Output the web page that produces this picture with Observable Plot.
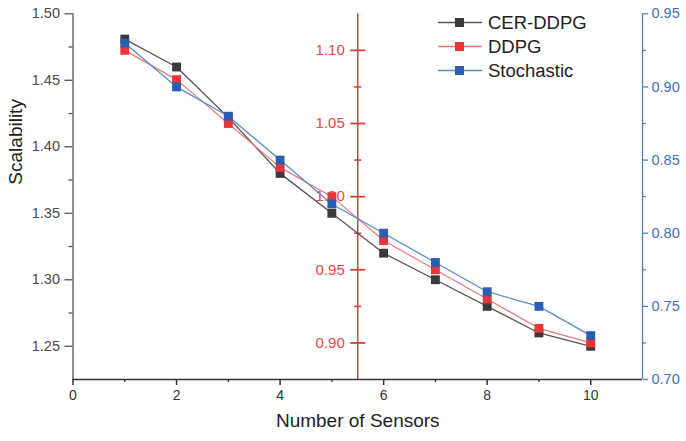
<!DOCTYPE html>
<html><head><meta charset="utf-8">
<script src="https://cdn.jsdelivr.net/npm/d3@7"></script>
<script src="https://cdn.jsdelivr.net/npm/@observablehq/plot@0.6"></script>
<style>
body{margin:0;background:#fff}
#wrap{position:relative;width:686px;height:441px}
#legend{position:absolute;left:0;top:0}
</style>
</head><body><div id="wrap"></div>
<script>
const sensors = [1, 2, 3, 4, 5, 6, 7, 8, 9, 10];
const cerDdpg = [1.481, 1.460, 1.422, 1.380, 1.350, 1.320, 1.300, 1.280, 1.260, 1.250];
const ddpg = [1.100, 1.080, 1.050, 1.020, 1.000, 0.970, 0.950, 0.930, 0.910, 0.900];
const stochastic = [0.930, 0.900, 0.880, 0.850, 0.820, 0.800, 0.780, 0.760, 0.750, 0.730];
const seriesNames = ["CER-DDPG", "DDPG", "Stochastic"];
const xTicks = [0, 2, 4, 6, 8, 10];
const xMinor = [1, 3, 5, 7, 9];
const leftTicks = [1.25, 1.30, 1.35, 1.40, 1.45, 1.50];
const leftMinor = [1.275, 1.325, 1.375, 1.425, 1.475];
const midTicks = [0.90, 0.95, 1.00, 1.05, 1.10];
const midMinor = [0.925, 0.975, 1.025, 1.075];
const rightTicks = [0.70, 0.75, 0.80, 0.85, 0.90, 0.95];
const rightMinor = [0.725, 0.775, 0.825, 0.875, 0.925];
const xTitle = "Number of Sensors";
const yTitle = "Scalability";

const leftDom = [1.225, 1.50];
const midDom = [0.875, 1.125];
const rightDom = [0.70, 0.95];
const midX = 5.5;
const toLeft = dom => v => leftDom[0] + (v - dom[0]) / (dom[1] - dom[0]) * (leftDom[1] - leftDom[0]);
const mapMid = toLeft(midDom);
const mapRight = toLeft(rightDom);

const colors = {black: "#3a3a3a", blackLine: "#555555", red: "#e8353b", redLine: "#e97a7a", blue: "#2c5fb2", blueLine: "#5a8cc6"};
const redText = "#e8474c", blueText = "#3b74b8", blueAxis = "#4f83c0", redAxis = "#e0393e";
const font = "'Liberation Sans', Arial, Helvetica, sans-serif";

// horizontal dash symbol for the floating axis ticks
const hDash = {draw(ctx, size) { const r = Math.sqrt(size / Math.PI); ctx.moveTo(-r, 0); ctx.lineTo(r, 0); }};

const rows = sensors.map((s, i) => ({s, cer: cerDdpg[i], ddpg: ddpg[i], sto: stochastic[i]}));
const fmt2 = d3.format(".2f");

const chart = Plot.plot({
  width: 686, height: 441,
  marginLeft: 72.5, marginRight: 44, marginTop: 13.3, marginBottom: 62,
  x: {domain: [0, 11]},
  y: {domain: leftDom},
  style: {fontFamily: font, background: "white", overflow: "visible"},
  marks: [
    // bottom axis
    Plot.axisX(xTicks, {tickSize: 6, tickPadding: 5, fontSize: 14, stroke: "#333", fill: "#333", strokeWidth: 1.5, label: null}),
    Plot.axisX(xMinor, {tickSize: 3, stroke: "#333", strokeWidth: 1.3, label: null, text: null}),
    // left axis
    Plot.axisY(leftTicks, {anchor: "left", tickSize: 8, tickPadding: 5, fontSize: 14.5, tickFormat: fmt2, stroke: "#555", strokeWidth: 1.3, fill: "#4a4a4a", label: null}),
    Plot.axisY(leftMinor, {anchor: "left", tickSize: 4, text: null, stroke: "#555", strokeWidth: 1.3, label: null}),
    // right axis (Stochastic)
    Plot.axisY(rightTicks.map(mapRight), {anchor: "right", tickSize: 5, tickPadding: 4, fontSize: 14.5, tickFormat: (d, i) => fmt2(rightTicks[i]), stroke: blueAxis, strokeWidth: 1.3, fill: blueText, label: null}),
    Plot.axisY(rightMinor.map(mapRight), {anchor: "right", tickSize: 3, text: null, stroke: blueAxis, strokeWidth: 1.3, label: null}),
    // axis lines
    Plot.ruleX([0], {stroke: "#555", strokeWidth: 1.3}),
    Plot.ruleX([11], {stroke: blueAxis, strokeWidth: 1.3}),
    Plot.ruleY([leftDom[0]], {stroke: "#333", strokeWidth: 1.7}),
    // middle red axis (DDPG)
    Plot.ruleX([midX], {stroke: redAxis, strokeWidth: 1.5}),
    Plot.dot(midTicks, {x: midX, y: mapMid, symbol: hDash, r: 7.5, stroke: redAxis, fill: "none", strokeWidth: 1.8}),
    Plot.dot(midMinor, {x: midX, y: mapMid, symbol: hDash, r: 3.5, stroke: redAxis, fill: "none", strokeWidth: 1.6}),
    Plot.text(midTicks, {x: midX, y: mapMid, text: d => fmt2(d), dx: -13, textAnchor: "end", fill: redText, fontSize: 15}),
    // series
    Plot.line(rows, {x: "s", y: "cer", stroke: colors.blackLine, strokeWidth: 1.3}),
    Plot.dot(rows, {x: "s", y: "cer", symbol: "square", r: 5, fill: colors.black}),
    Plot.line(rows, {x: "s", y: d => mapMid(d.ddpg), stroke: colors.redLine, strokeWidth: 1.2}),
    Plot.dot(rows, {x: "s", y: d => mapMid(d.ddpg), symbol: "square", r: 5, fill: colors.red}),
    Plot.line(rows, {x: "s", y: d => mapRight(d.sto), stroke: colors.blueLine, strokeWidth: 1.3}),
    Plot.dot(rows, {x: "s", y: d => mapRight(d.sto), symbol: "square", r: 5, fill: colors.blue}),
    // titles
    Plot.text([xTitle], {frameAnchor: "bottom", dy: 41, fontSize: 19, fill: "#222", lineAnchor: "middle"}),
    Plot.text([yTitle], {frameAnchor: "left", dx: -57.5, dy: -12, rotate: -90, fontSize: 19, fill: "#222", lineAnchor: "middle"})
  ]
});
document.getElementById("wrap").appendChild(chart);

// legend
const legendItems = [
  {name: seriesNames[0], line: colors.blackLine, fill: colors.black},
  {name: seriesNames[1], line: colors.redLine, fill: colors.red},
  {name: seriesNames[2], line: colors.blueLine, fill: colors.blue}
];
const lg = d3.select("#wrap").append("svg").attr("id", "legend").attr("width", 686).attr("height", 100);
const items = lg.selectAll("g").data(legendItems).join("g")
  .attr("transform", (d, i) => `translate(0,${22.5 + i * 24})`);
items.append("line").attr("x1", 438).attr("x2", 482).attr("y1", 0).attr("y2", 0)
  .attr("stroke", d => d.line).attr("stroke-width", 1.3);
items.append("rect").attr("x", 455).attr("y", -4.5).attr("width", 9).attr("height", 9).attr("fill", d => d.fill);
items.append("text").attr("x", 488).attr("y", 0).attr("dy", "0.35em")
  .attr("font-family", font).attr("font-size", 18.5).attr("fill", "#222").text(d => d.name);
</script>
</body></html>
